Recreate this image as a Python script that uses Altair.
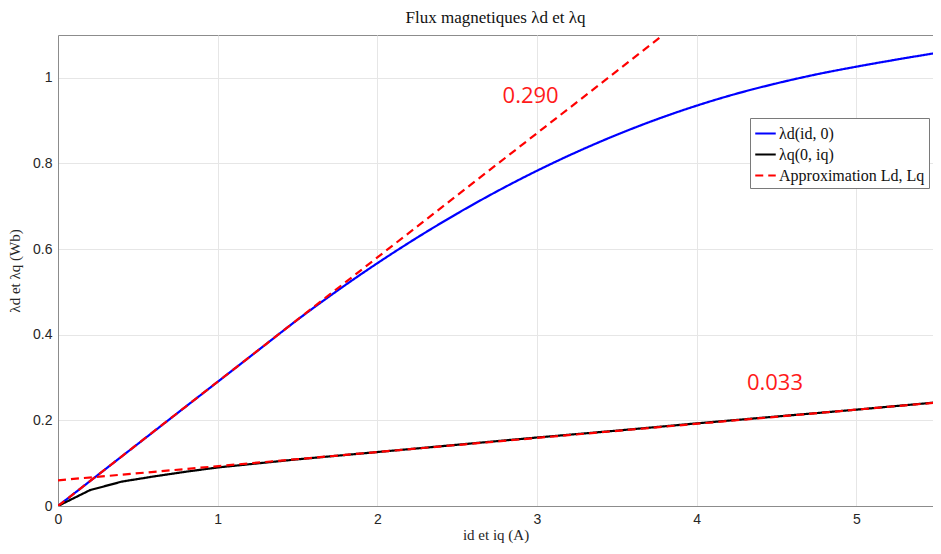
import altair as alt
import pandas as pd

# --- data ---
x_d = [0, 0.25, 0.5, 0.75, 1.0, 1.25, 1.5, 1.75, 2.0, 2.25, 2.5, 2.75, 3.0,
       3.25, 3.5, 3.75, 4.0, 4.25, 4.5, 4.75, 5.0, 5.25, 5.5]
lam_d = [0, 0.0725, 0.145, 0.2175, 0.29, 0.3625, 0.435, 0.503, 0.567, 0.627,
         0.683, 0.735, 0.783, 0.827, 0.867, 0.903, 0.935, 0.963, 0.987, 1.008,
         1.026, 1.0425, 1.058]

x_q = [0, 0.2, 0.4, 0.6, 0.8, 1.0, 1.5, 2.0, 2.5, 3.0, 3.5, 4.0, 4.5, 5.0, 5.5]
lam_q = [0, 0.037, 0.057, 0.069, 0.08, 0.09, 0.109, 0.126, 0.143, 0.16,
         0.176, 0.193, 0.209, 0.225, 0.242]

approx_d_x = [0, 3.79]
approx_d_y = [0, 1.1]
approx_q_x = [0, 5.5]
approx_q_y = [0.06, 0.2415]

ann_text = ["0.290", "0.033"]
ann_x = [2.96, 4.49]
ann_y = [0.958, 0.287]

x_ticks = [0, 1, 2, 3, 4, 5]
y_ticks = [0, 0.2, 0.4, 0.6, 0.8, 1.0]

series_names = ["λd(id, 0)", "λq(0, iq)", "Approximation Ld, Lq"]
series_colors = ["#0000ff", "#000000", "#ff0000"]

d_df = pd.DataFrame({"x": x_d, "y": lam_d, "series": series_names[0], "grp": "d"})
q_df = pd.DataFrame({"x": x_q, "y": lam_q, "series": series_names[1], "grp": "q"})

arows = []
for xv, yv in zip(approx_d_x, approx_d_y):
    arows.append({"x": xv, "y": yv, "series": series_names[2], "grp": "ad"})
for xv, yv in zip(approx_q_x, approx_q_y):
    arows.append({"x": xv, "y": yv, "series": series_names[2], "grp": "aq"})
approx = pd.DataFrame(arows)

ann = pd.DataFrame({"x": ann_x, "y": ann_y, "t": ann_text})

xscale = alt.Scale(domain=[0, 5.48], nice=False, zero=False)
yscale = alt.Scale(domain=[0, 1.1], nice=False)

xenc = alt.X("x:Q", scale=xscale,
             axis=alt.Axis(values=x_ticks, format="~g", title="id et iq (A)",
                           labelFlush=False))
yenc = alt.Y("y:Q", scale=yscale,
             axis=alt.Axis(values=y_ticks, format="~g",
                           title="λd et λq (Wb)", labelFlush=False))

legend = alt.Legend(title=None, orient="none", legendX=692, legendY=83)
color = alt.Color("series:N",
                  scale=alt.Scale(domain=series_names, range=series_colors),
                  legend=legend)
dash = alt.StrokeDash("series:N",
                      scale=alt.Scale(domain=series_names,
                                      range=[[1, 0], [1, 0], [8, 5]]),
                      legend=legend)

d_line = alt.Chart(d_df).mark_line(strokeWidth=2.2, clip=True,
                                   interpolate="monotone").encode(
    x=xenc, y=yenc, color=color, strokeDash=dash, detail="grp:N"
)
q_line = alt.Chart(q_df).mark_line(strokeWidth=2.2, clip=True).encode(
    x=xenc, y=yenc, color=color, strokeDash=dash, detail="grp:N"
)
approx_lines = alt.Chart(approx).mark_line(strokeWidth=2.2, clip=True).encode(
    x=xenc, y=yenc, color=color, strokeDash=dash, detail="grp:N"
)
labels = alt.Chart(ann).mark_text(
    font="Open Sans", fontSize=22, color="#ff1a1a"
).encode(x=alt.X("x:Q", scale=xscale), y=alt.Y("y:Q", scale=yscale), text="t:N")

chart = alt.layer(d_line, q_line, approx_lines, labels).properties(
    width=875, height=471,
    title=alt.TitleParams("Flux magnetiques λd et λq", font="Liberation Serif",
                          fontSize=17, fontWeight="normal", color="#111111",
                          offset=8),
    autosize=alt.AutoSizeParams(type="none"),
    padding={"left": 50, "top": 27, "right": 0, "bottom": 40},
).configure_view(
    stroke="#8c8c8c", strokeWidth=1
).configure_axis(
    labelFont="Liberation Sans", labelFontSize=14, labelColor="#262626",
    titleFont="Liberation Serif", titleFontSize=15, titleFontWeight="normal",
    titleColor="#262626",
    domainColor="#8c8c8c", ticks=False, gridColor="#e6e6e6",
    labelPadding=6
).configure_axisX(
    titlePadding=1
).configure_axisY(
    titlePadding=10
).configure_legend(
    fillColor="white", strokeColor="#7a7a7a", padding=4,
    labelFont="Liberation Serif", labelFontSize=16, labelColor="#111111",
    symbolType="stroke", symbolSize=420, symbolStrokeWidth=2.2,
    rowPadding=1, labelOffset=2, cornerRadius=0
)

chart.save("out.html", embed_options={"renderer": "svg", "actions": False})
